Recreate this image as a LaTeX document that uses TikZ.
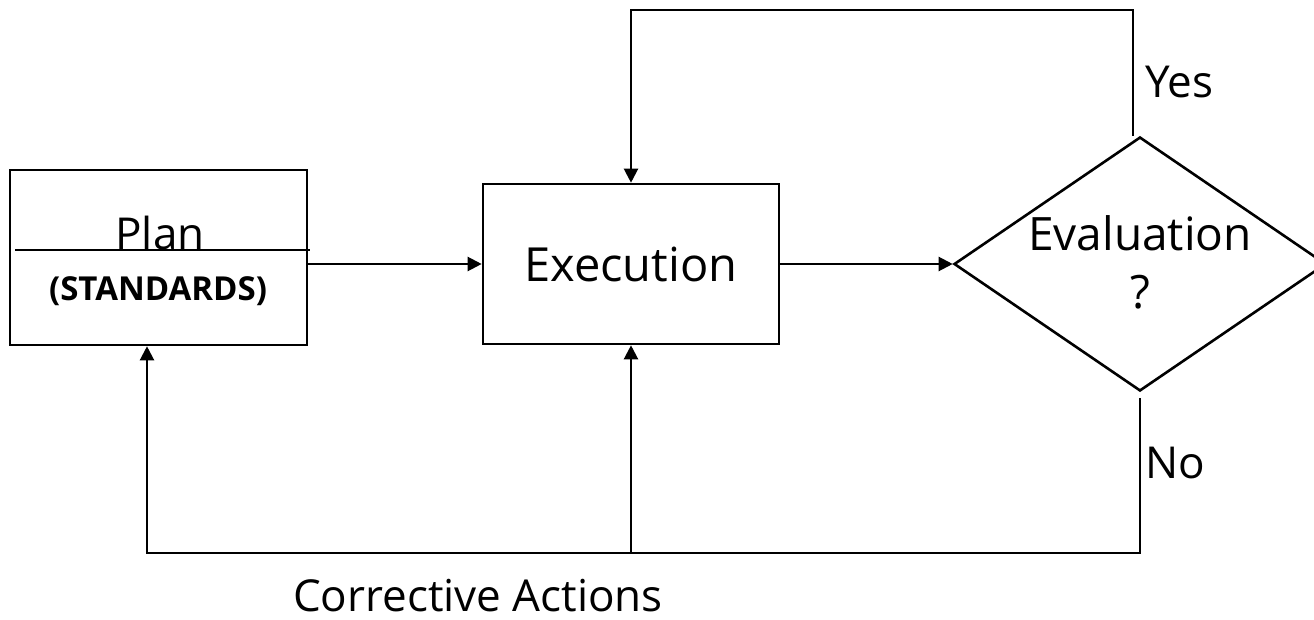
\documentclass[tikz,border=0pt]{standalone}
\usepackage{fontspec}
\setmainfont{Open Sans}
\usetikzlibrary{shapes.geometric,arrows.meta}
\begin{document}
\begin{tikzpicture}[x=0.5pt,y=-0.5pt,
                    bnode/.style = {shape = rectangle,
                                    draw,
                                    line width = 1.3pt,
                                    inner sep = 0pt},
                    dnode/.style = {shape = diamond,
                                    draw,
                                    line width = 1.3pt,
                                    inner sep = 0pt,
                                    minimum width = 186pt,
                                    minimum height = 127pt},
                    tnode/.style = {inner sep = 0pt,
                                    font = \fontsize{22}{26}\selectfont},
                    conn/.style = {line width = 1.1pt,
                                   -{Triangle[length=7pt,width=7pt]}}]
		\useasboundingbox (0,0) rectangle (1314,620);
		\node[bnode, minimum width = 148.5pt, minimum height = 87.5pt] (plan) at (158.5,257.5) {};
		\node[tnode, anchor = base] (plantext) at (160,250) {Plan};
		\node[tnode, font = \fontsize{16.5}{18}\selectfont\bfseries] (standards) at (158,291) {(STANDARDS)};
		\draw[line width = 1.1pt] (15,250) -- (310,250);
		\node[bnode, minimum width = 148pt, minimum height = 80pt,
		      tnode, font = \fontsize{23.5}{26}\selectfont] (exec) at (631,264) {Execution};
		\node[dnode] (eval) at (1140,264) {};
		\node[tnode, align = center, font = \fontsize{23}{29}\selectfont] (evaltext) at (1140,262) {Evaluation\\?};
		\node[tnode, anchor = west] (yes) at (1145,82) {Yes};
		\node[tnode, anchor = west] (no) at (1145,463) {No};
		\node[tnode] (corr) at (478,596) {Corrective Actions};
		\coordinate (top) at (1133,10);
		\coordinate (bot) at (147,553);
		\draw[conn] (plan.east |- exec.west) -- (exec.west);
		\draw[conn] (exec.east) -- (eval.west);
		\draw[conn] ([xshift=-3.5pt]eval.north) -- ([xshift=-3.5pt]eval.north |- top) -| (exec.north);
		\draw[conn] ([yshift=-3pt]eval.south) |- (bot) -- (bot |- plan.south);
		\draw[conn] (exec.south |- bot) -- (exec.south);
	\end{tikzpicture}
\end{document}
